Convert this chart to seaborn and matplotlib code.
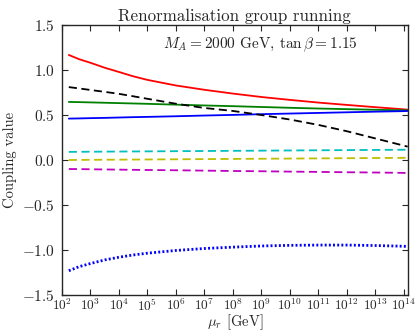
import numpy as np
import pandas as pd
import matplotlib
matplotlib.use("Agg")
import matplotlib.pyplot as plt
import matplotlib.ticker as mticker
import seaborn as sns

# Renormalisation scale (log10 of mu_r in GeV)
log_mu = [2.24, 2.6, 3, 3.5, 4, 4.5, 5, 6, 7, 8, 9, 10, 11, 12, 13, 14, 14.14]

# Running couplings at each scale
red_solid = [1.167, 1.12, 1.08, 1.025, 0.978, 0.93, 0.89, 0.828, 0.78, 0.738, 0.70, 0.668, 0.638, 0.612, 0.587, 0.563, 0.559]
green_solid = [0.645, 0.643, 0.64, 0.636, 0.632, 0.628, 0.624, 0.615, 0.606, 0.598, 0.589, 0.58, 0.572, 0.565, 0.558, 0.552, 0.551]
blue_solid = [0.46, 0.462, 0.465, 0.468, 0.472, 0.476, 0.479, 0.486, 0.494, 0.501, 0.509, 0.516, 0.523, 0.53, 0.537, 0.543, 0.545]
black_dashed = [0.81, 0.795, 0.778, 0.757, 0.735, 0.708, 0.68, 0.625, 0.578, 0.545, 0.50, 0.45, 0.39, 0.32, 0.24, 0.16, 0.148]
cyan_dashed = [0.09, 0.091, 0.092, 0.093, 0.094, 0.095, 0.096, 0.098, 0.100, 0.102, 0.104, 0.106, 0.108, 0.110, 0.112, 0.114, 0.115]
yellow_dashed = [0.0, 0.001, 0.002, 0.003, 0.004, 0.005, 0.006, 0.008, 0.010, 0.012, 0.014, 0.016, 0.018, 0.020, 0.022, 0.024, 0.025]
magenta_dashed = [-0.10, -0.101, -0.103, -0.105, -0.107, -0.109, -0.111, -0.114, -0.118, -0.122, -0.125, -0.129, -0.132, -0.136, -0.139, -0.143, -0.145]
blue_dotted = [-1.23, -1.185, -1.15, -1.11, -1.08, -1.055, -1.035, -1.005, -0.983, -0.968, -0.955, -0.948, -0.945, -0.945, -0.95, -0.958, -0.962]

xtick_exponents = list(range(2, 15))

sns.set_style("ticks")
plt.rcParams.update({
    "font.family": "serif",
    "font.serif": ["cmr10", "DejaVu Serif"],
    "mathtext.fontset": "cm",
    "axes.formatter.use_mathtext": True,
    "xtick.direction": "in",
    "ytick.direction": "in",
    "xtick.top": True,
    "ytick.right": True,
    "axes.linewidth": 1.0,
})

fig = plt.figure(figsize=(4.16, 3.33), dpi=100)
ax = fig.add_axes([0.149, 0.114, 0.831, 0.811])

mu = 10.0 ** np.array(log_mu)
dash = (0, (4.5, 2.5))
series = [
    (red_solid, "red", "-", 1.3),
    (green_solid, "green", "-", 1.3),
    (blue_solid, "blue", "-", 1.3),
    (black_dashed, "black", dash, 1.3),
    (cyan_dashed, "c", dash, 1.3),
    (yellow_dashed, "y", dash, 1.3),
    (magenta_dashed, "m", dash, 1.3),
    (blue_dotted, "blue", (0, (0.7, 0.8)), 2.0),
]
for vals, col, ls, lw in series:
    df = pd.DataFrame({"mu": mu, "g": vals})
    sns.lineplot(data=df, x="mu", y="g", color=col, linestyle=ls, linewidth=lw, ax=ax)

ax.set_xscale("log")
ax.set_xlim(1e2, 10 ** 14.14)
ax.set_ylim(-1.5, 1.5)
ax.xaxis.set_major_locator(mticker.FixedLocator([10.0 ** e for e in xtick_exponents]))
ax.xaxis.set_minor_locator(mticker.NullLocator())
ax.set_xticklabels([f"$10^{{{e}}}$" for e in xtick_exponents])
ax.yaxis.set_major_locator(mticker.MultipleLocator(0.5))
ax.yaxis.set_major_formatter(mticker.FuncFormatter(lambda v, p: f"${v:.1f}$"))
ax.tick_params(labelsize=11, length=4, width=0.8)
ax.tick_params(axis="x", pad=2, labelsize=9.6)
ax.tick_params(axis="y", pad=5)

ax.set_title("Renormalisation group running", fontsize=12.2, pad=3)
ax.set_xlabel(r"$\mu_r$ [GeV]", fontsize=10.5, labelpad=-1)
ax.set_ylabel("Coupling value", fontsize=10.5, labelpad=4)
ax.text(0.575, 0.925, r"$M_A = 2000$ GeV, $\tan\beta = 1.15$", transform=ax.transAxes,
        ha="center", va="center", fontsize=11)

fig.savefig("out.png", dpi=100)
